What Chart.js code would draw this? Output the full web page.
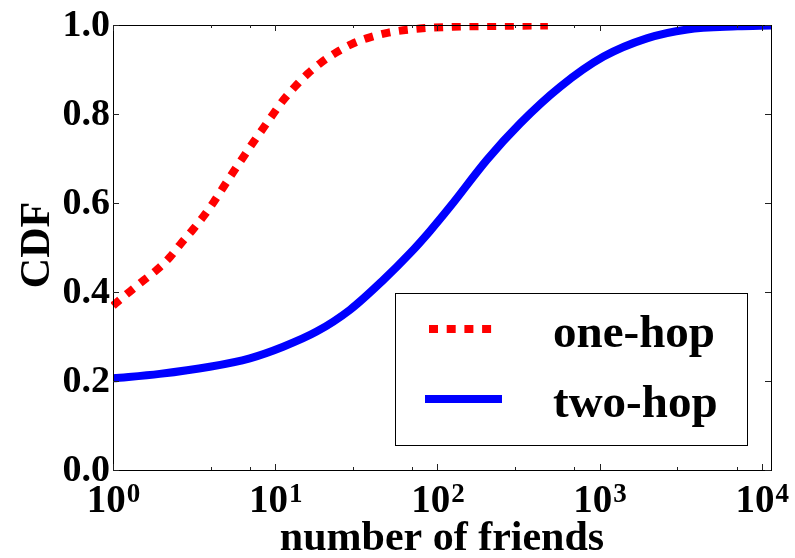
<!DOCTYPE html>
<html>
<head>
<meta charset="utf-8">
<script src="https://cdn.jsdelivr.net/npm/chart.js@4/dist/chart.umd.min.js"></script>
<style>
  body { margin: 0; background: #fff; }
  #wrap { width: 795px; height: 558px; position: relative; }
</style>
</head>
<body>
<div id="wrap"><canvas id="cdfChart"></canvas></div>
<script>
// values
const oneHopX = [1, 1.05, 1.27, 1.53, 1.88, 2.24, 2.61, 3.09, 3.63, 4.19, 4.82, 5.5, 6.35, 7.31, 8.43, 9.72,
                 11.2, 13.2, 15.8, 19.1, 23.7, 29.6, 36.6, 50, 78, 125, 250, 480];
const oneHopY = [0.369, 0.376, 0.401, 0.425, 0.451, 0.478, 0.508, 0.539, 0.571, 0.603, 0.637, 0.669, 0.703, 0.736, 0.768, 0.80,
                 0.831, 0.861, 0.89, 0.915, 0.938, 0.957, 0.97, 0.983, 0.992, 0.996, 0.998, 0.999];

const twoHopX = [1, 1.94, 3.95, 6.98, 11.2, 18, 28.9, 46.4, 67.8, 90, 120, 202, 324, 571, 1059, 1955, 3470, 7070, 11400];
const twoHopY = [0.206, 0.216, 0.232, 0.251, 0.277, 0.311, 0.36, 0.427, 0.487, 0.537, 0.592, 0.697, 0.779, 0.861, 0.929, 0.97, 0.99, 0.997, 0.999];

const seriesNames = ['one-hop', 'two-hop'];
const xExponents = [0, 1, 2, 3, 4];
const yTicks = [0.0, 0.2, 0.4, 0.6, 0.8, 1.0];

const FONT = '"Liberation Serif", "DejaVu Serif", serif';

const toPoints = (xs, ys) => xs.map((x, i) => ({ x: x, y: ys[i] }));

// frame, inward ticks, tick labels, axis titles, legend
const decorations = {
  id: 'decorations',
  afterDatasetsDraw(chart) {
    const { ctx, chartArea: a, scales } = chart;
    const xs = scales.x, ys = scales.y;
    ctx.save();

    // frame
    ctx.strokeStyle = '#000';
    ctx.lineWidth = 1;
    ctx.strokeRect(a.left + 0.5, a.top + 0.5, a.right - a.left, a.bottom - a.top);

    // x ticks (log, major + minor) top and bottom
    ctx.strokeStyle = '#222';
    xs.ticks.forEach(t => {
      const v = t.value;
      if (v < xs.min || v > xs.max) return;
      const lg = Math.log10(v);
      const mant = v / Math.pow(10, Math.floor(lg + 1e-9));
      if (Math.abs(mant - Math.round(mant)) > 1e-6) return;
      const major = Math.abs(lg - Math.round(lg)) < 1e-9;
      const len = major ? 6 : 3;
      const px = Math.round(xs.getPixelForValue(v)) + 0.5;
      ctx.beginPath();
      ctx.moveTo(px, a.bottom); ctx.lineTo(px, a.bottom - len);
      ctx.moveTo(px, a.top); ctx.lineTo(px, a.top + len);
      ctx.stroke();
    });

    // y ticks left and right
    yTicks.forEach(v => {
      const py = Math.round(ys.getPixelForValue(v)) + 0.5;
      ctx.beginPath();
      ctx.moveTo(a.left, py); ctx.lineTo(a.left + 6, py);
      ctx.moveTo(a.right, py); ctx.lineTo(a.right - 6, py);
      ctx.stroke();
    });

    ctx.fillStyle = '#000';

    // y tick labels
    ctx.font = 'bold 38px ' + FONT;
    ctx.textAlign = 'right';
    ctx.textBaseline = 'middle';
    yTicks.forEach(v => {
      ctx.fillText(v.toFixed(1), a.left - 3, ys.getPixelForValue(v) + 1);
    });

    // x tick labels 10^k
    ctx.textAlign = 'left';
    ctx.textBaseline = 'alphabetic';
    xExponents.forEach(k => {
      const px = xs.getPixelForValue(Math.pow(10, k));
      ctx.font = 'bold 39px ' + FONT;
      const w1 = ctx.measureText('10').width;
      ctx.font = 'bold 27px ' + FONT;
      const w2 = ctx.measureText(String(k)).width;
      const x0 = px - (w1 + w2) / 2;
      ctx.font = 'bold 39px ' + FONT;
      ctx.fillText('10', x0, 512);
      ctx.font = 'bold 27px ' + FONT;
      ctx.fillText(String(k), x0 + w1 + 1, 502);
    });

    // axis titles
    ctx.font = 'bold 42px ' + FONT;
    ctx.textAlign = 'center';
    ctx.fillText('number of friends', 442, 550);
    ctx.save();
    ctx.translate(49, 245);
    ctx.rotate(-Math.PI / 2);
    ctx.fillText('CDF', 0, 0);
    ctx.restore();

    // legend
    ctx.fillStyle = '#fff';
    ctx.fillRect(395, 293, 352, 152);
    ctx.strokeStyle = '#000';
    ctx.lineWidth = 1;
    ctx.strokeRect(395.5, 293.5, 352, 152);

    const rows = [{ y: 329, x1: 429, x2: 492 }, { y: 399, x1: 425, x2: 502 }];
    chart.data.datasets.forEach((ds, i) => {
      const r = rows[i];
      ctx.save();
      ctx.strokeStyle = ds.borderColor;
      ctx.lineWidth = ds.borderWidth;
      ctx.lineCap = 'butt';
      ctx.setLineDash(ds.borderDash || []);
      ctx.beginPath();
      ctx.moveTo(r.x1, r.y); ctx.lineTo(r.x2, r.y);
      ctx.stroke();
      ctx.restore();
      ctx.fillStyle = '#000';
      ctx.font = 'bold 47px ' + FONT;
      ctx.textAlign = 'left';
      ctx.fillText(ds.label, 553, r.y + 18);
    });

    ctx.restore();
  }
};

new Chart(document.getElementById('cdfChart'), {
  type: 'line',
  data: {
    datasets: [{
      label: seriesNames[0],
      data: toPoints(oneHopX, oneHopY),
      borderColor: '#ff0000',
      borderWidth: 8,
      borderDash: [9, 8.7],
      borderCapStyle: 'butt',
      pointRadius: 0,
      cubicInterpolationMode: 'monotone',
      clip: 2
    }, {
      label: seriesNames[1],
      data: toPoints(twoHopX, twoHopY),
      borderColor: '#0000ff',
      borderWidth: 8,
      pointRadius: 0,
      cubicInterpolationMode: 'monotone',
      clip: 0
    }]
  },
  options: {
    responsive: true,
    maintainAspectRatio: false,
    animation: false,
    layout: { padding: { left: 113, top: 25, right: 24, bottom: 88 } },
    plugins: {
      legend: { display: false },
      tooltip: { enabled: false }
    },
    scales: {
      x: { type: 'logarithmic', min: 1, max: 11400, display: false },
      y: { type: 'linear', min: 0, max: 1, display: false, ticks: { stepSize: 0.2 } }
    }
  },
  plugins: [decorations]
});
</script>
</body>
</html>
